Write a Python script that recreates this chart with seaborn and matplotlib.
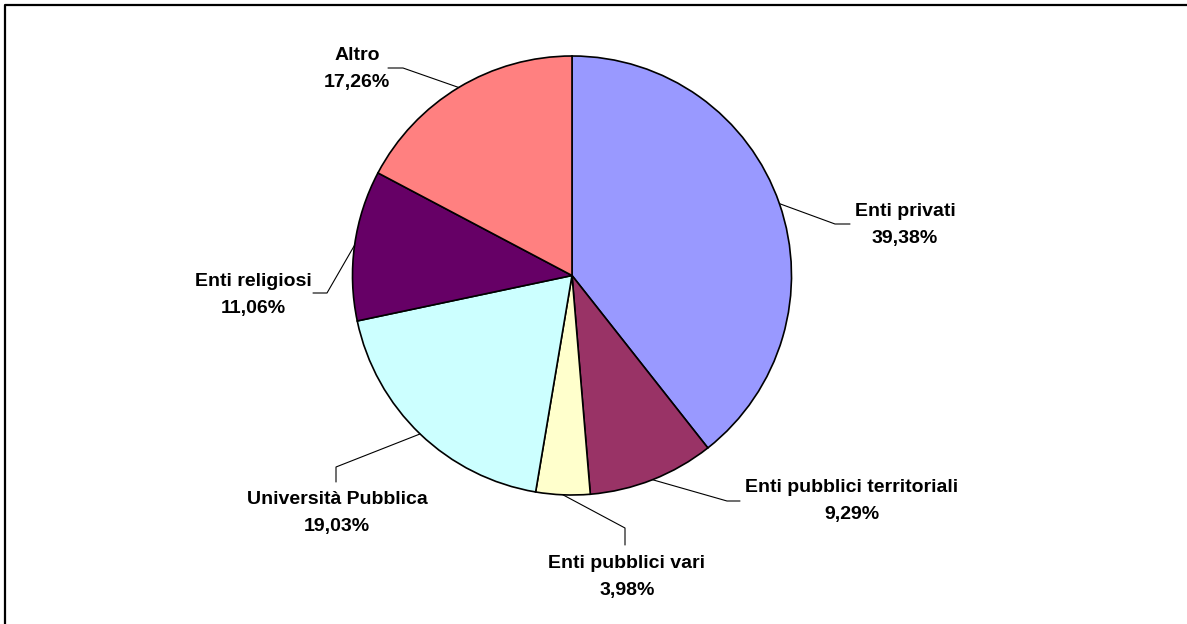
import numpy as np
import matplotlib
matplotlib.use("Agg")
import matplotlib.pyplot as plt
import seaborn as sns

# dati del grafico
categorie = [
    "Enti privati",
    "Enti pubblici territoriali",
    "Enti pubblici vari",
    "Università Pubblica",
    "Enti religiosi",
    "Altro",
]
percentuali = [39.38, 9.29, 3.98, 19.03, 11.06, 17.26]
colori = ["#9999FF", "#993366", "#FFFFCC", "#CCFFFF", "#660066", "#FF8080"]

# posizione etichette (pixel): centro del testo, gomito della linea, fine linea
pos_testo = [(905, 223), (852, 499), (627, 575), (337, 511), (253, 293), (357, 67)]
gomito = [(835, 224), (727, 501), (625, 528), (336, 467), (327, 293), (403, 68)]
fine_linea = [(850, 224), (740, 501), (625, 545), (336, 482), (313, 293), (388, 68)]

sns.set_theme(style="white")
plt.rcParams["font.family"] = ["Liberation Sans", "DejaVu Sans"]

W, H = 1187, 624
fig = plt.figure(figsize=(W / 100, H / 100), dpi=100)
ax = fig.add_axes([0, 0, 1, 1])

cx, cy, r = 572, 275.5, 219.5

# asse y invertito: startangle -90 = in alto, senso antiorario = orario a video
wedges, _ = ax.pie(
    percentuali,
    colors=colori,
    startangle=-90,
    counterclock=True,
    center=(cx, cy),
    radius=r,
    frame=True,
    wedgeprops=dict(edgecolor="black", linewidth=1.2),
)

ax.set_xlim(0, W)
ax.set_ylim(H, 0)
ax.set_aspect("equal", adjustable="box")
ax.axis("off")

for w, nome, val, pt, gm, fl in zip(
    wedges, categorie, percentuali, pos_testo, gomito, fine_linea
):
    mid = np.deg2rad((w.theta1 + w.theta2) / 2)
    x0 = cx + r * np.cos(mid)
    y0 = cy + r * np.sin(mid)
    ax.plot([x0, gm[0], fl[0]], [y0, gm[1], fl[1]], color="black", lw=0.8)
    etichetta = f"{val:.2f}%".replace(".", ",")
    ax.text(pt[0], pt[1] - 7, nome, ha="center", va="baseline",
            fontsize=14, fontweight="bold", color="black")
    ax.text(pt[0], pt[1] + 20, etichetta, ha="center", va="baseline",
            fontsize=14, fontweight="bold", color="black")

# cornice (solo lati sinistro e superiore visibili)
ax.plot([5, 5, W + 5], [H + 5, 5, 5], color="black", lw=1.6, clip_on=False)

fig.savefig("out.png", dpi=100)
